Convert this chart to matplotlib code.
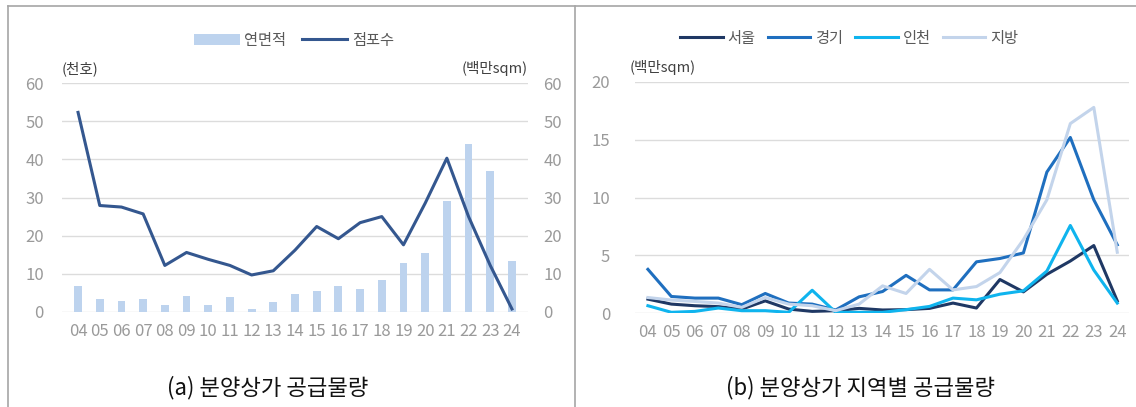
import matplotlib
matplotlib.use("Agg")
import matplotlib.pyplot as plt
from matplotlib.lines import Line2D
from matplotlib.patches import Patch

plt.rcParams['font.family'] = ['Noto Sans CJK KR', 'DejaVu Sans']

years = ["04", "05", "06", "07", "08", "09", "10", "11", "12", "13", "14",
         "15", "16", "17", "18", "19", "20", "21", "22", "23", "24"]

# (a) 분양상가 공급물량
stores = [52.3, 27.9, 27.5, 25.7, 12.2, 15.6, 13.8, 12.2, 9.7, 10.8, 16.2,
          22.4, 19.2, 23.4, 25.0, 17.6, 28.5, 40.3, 25.0, 12.2, 0.8]   # 점포수 (천호)
area = [6.8, 3.4, 3.0, 3.4, 1.75, 4.3, 1.75, 3.85, 0.87, 2.5, 4.6,
        5.5, 6.8, 5.9, 8.4, 12.9, 15.4, 29.1, 44.0, 37.0, 13.4]      # 연면적 (백만sqm)

# (b) 분양상가 지역별 공급물량 (백만sqm)
seoul = [1.2, 0.77, 0.63, 0.55, 0.34, 1.05, 0.34, 0.14, 0.2, 0.4, 0.26,
         0.29, 0.4, 0.86, 0.43, 2.9, 1.83, 3.35, 4.5, 5.84, 1.05]
gyeonggi = [3.78, 1.43, 1.29, 1.29, 0.72, 1.69, 0.86, 0.77, 0.26, 1.4, 1.86,
            3.26, 2.0, 2.0, 4.43, 4.72, 5.2, 12.2, 15.2, 9.8, 5.9]
incheon = [0.63, 0.06, 0.14, 0.43, 0.2, 0.2, 0.06, 1.97, 0.06, 0.06, 0.06,
           0.29, 0.57, 1.29, 1.14, 1.63, 1.92, 3.63, 7.58, 3.72, 0.86]
jibang = [1.34, 1.12, 1.0, 0.86, 0.49, 1.34, 0.77, 0.63, 0.2, 0.77, 2.35,
          1.69, 3.78, 2.0, 2.29, 3.5, 6.35, 9.8, 16.4, 17.8, 5.26]

W, H = 1136, 407
fig = plt.figure(figsize=(W / 100, H / 100), dpi=100)

tick_color = '#9A9A9A'
grid_color = '#DCDCDC'
text_color = '#595959'

# frame lines
border = '#A6A6A6'
fig.add_artist(Line2D([8 / W, 8 / W], [0, 1 - 6 / H], color=border, lw=1.2, transform=fig.transFigure))
fig.add_artist(Line2D([8 / W, 1], [1 - 6 / H, 1 - 6 / H], color=border, lw=1.2, transform=fig.transFigure))
fig.add_artist(Line2D([575 / W, 575 / W], [0, 1 - 6 / H], color=border, lw=1.2, transform=fig.transFigure))

x = list(range(len(years)))

def style_axis(ax):
    for s in ax.spines.values():
        s.set_visible(False)
    ax.tick_params(axis='both', length=0, colors=tick_color, labelsize=12)

# ---------- left chart ----------
axL = fig.add_axes([62 / W, 1 - 312 / H, (528 - 62) / W, (312 - 83) / H])
axR = axL.twinx()
axL.set_zorder(axR.get_zorder() + 1)
axL.patch.set_visible(False)

axR.bar(x, area, width=0.36, color='#BDD3EE', zorder=2)
axL.plot(x, stores, color='#34578F', lw=2.2, zorder=3)

for ax in (axL, axR):
    ax.set_ylim(0, 60)
    ax.set_yticks(range(0, 61, 10))
    style_axis(ax)
axL.set_xlim(-0.74, 20.74)
axL.set_xticks(x)
axL.set_xticklabels(years)
axL.tick_params(axis='x', pad=8)
axL.tick_params(axis='y', pad=13)
axR.tick_params(axis='y', pad=11)
axR.yaxis.grid(True, color=grid_color, lw=1)
axR.set_axisbelow(True)

axL.text(0.0, 1.03, "(천호)", transform=axL.transAxes, fontsize=10.5, color='#404040', ha='left', va='bottom')
axL.text(1.0, 1.03, "(백만sqm)", transform=axL.transAxes, fontsize=10.5, color='#404040', ha='right', va='bottom')

handlesL = [Patch(facecolor='#BDD3EE', edgecolor='none'), Line2D([], [], color='#34578F', lw=2.2)]
fig.legend(handlesL, ["연면적", "점포수"], loc='center', bbox_to_anchor=(294 / W, 1 - 40 / H),
           ncol=2, frameon=False, fontsize=11, labelcolor=text_color,
           handlelength=3.0, handleheight=0.75, columnspacing=1.0, handletextpad=0.3)

# ---------- right chart ----------
ax2 = fig.add_axes([635 / W, 1 - 313 / H, (1129 - 635) / W, (313 - 82) / H])
ax2.plot(x, seoul, color='#1F3864', lw=2.2, label="서울")
ax2.plot(x, gyeonggi, color='#1F6FBF', lw=2.2, label="경기")
ax2.plot(x, incheon, color='#0FB4EE', lw=2.2, label="인천")
ax2.plot(x, jibang, color='#C3D4EB', lw=2.2, label="지방")
ax2.set_ylim(0, 20)
ax2.set_yticks(range(0, 21, 5))
ax2.set_xlim(-0.55, 20.5)
ax2.set_xticks(x)
ax2.set_xticklabels(years)
style_axis(ax2)
ax2.tick_params(axis='x', pad=8)
ax2.tick_params(axis='y', pad=18)
ax2.yaxis.grid(True, color=grid_color, lw=1)
ax2.set_axisbelow(True)
ax2.text(-0.01, 1.03, "(백만sqm)", transform=ax2.transAxes, fontsize=10.5, color='#404040', ha='left', va='bottom')

fig.legend(*ax2.get_legend_handles_labels(), loc='center', bbox_to_anchor=(849 / W, 1 - 38 / H),
           ncol=4, frameon=False, fontsize=11, labelcolor=text_color,
           handlelength=2.8, columnspacing=0.8, handletextpad=0.3)

# captions
fig.text(268 / W, 1 - 388 / H, "(a) 분양상가 공급물량", ha='center', va='center', fontsize=16, color='#111111')
fig.text(860 / W, 1 - 388 / H, "(b) 분양상가 지역별 공급물량", ha='center', va='center', fontsize=16, color='#111111')

fig.savefig("out.png", dpi=100)
